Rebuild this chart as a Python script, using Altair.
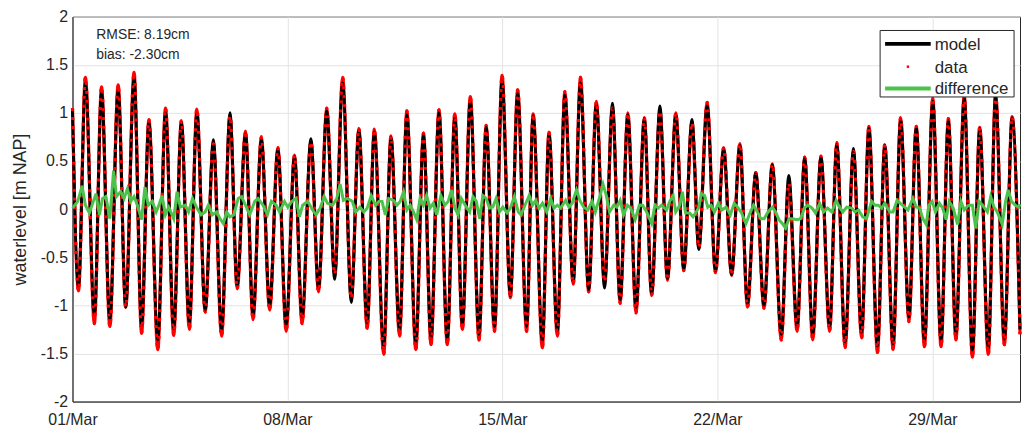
import altair as alt
import pandas as pd

# ---- tide extremes (hours after 01/Mar 00:00) ----
ext_hours = [0.0, 4.7, 10.1, 17.1, 22.7, 29.2, 35.7, 41.6, 48.1, 54.0, 59.7, 66.7, 72.7, 79.1, 85.1,
             91.3, 97.2, 103.7, 110.1, 116.5, 123.1, 128.7, 135.2, 141.1, 147.6, 154.1, 160.5, 167.0,
             173.5, 179.4, 186.3, 192.3, 198.7, 204.9, 211.1, 217.9, 223.8, 230.3, 235.9, 243.2, 248.9,
             255.6, 261.3, 268.3, 274.3, 280.2, 286.4, 292.9, 298.8, 304.7, 310.9, 317.7, 323.3, 329.8,
             335.7, 342.2, 347.9, 354.9, 360.0, 367.2, 372.4, 378.9, 384.8, 391.3, 397.0, 403.4, 409.4,
             415.8, 422.0, 428.0, 434.0, 440.4, 446.9, 452.6, 459.1, 465.0, 471.5, 477.7, 484.1, 489.5,
             496.0, 502.5, 508.9, 515.1, 521.6, 527.5, 534.0, 540.4, 546.9, 553.9, 559.8, 566.3, 572.2,
             578.5, 584.9, 591.7, 597.3, 603.8, 610.3, 616.7, 622.4, 629.1, 634.8, 641.3, 647.2, 653.7,
             659.4, 665.8, 672.3, 678.8, 684.5, 690.4, 696.9, 703.3, 709.0, 715.7, 721.4, 728.3, 734.3,
             740.5]

data_level = [1.05,
              -0.85, 1.37, -1.19, 1.27, -1.22, 1.29, -1.02, 1.42, -1.29, 0.93,
              -1.46, 1.05, -1.31, 0.92, -1.25, 1.04, -1.07, 0.68, -1.32, 0.97,
              -0.83, 0.81, -1.15, 0.75, -1.05, 0.64, -1.27, 0.56, -1.19, 0.70,
              -0.86, 1.05, -0.68, 1.37, -0.93, 0.84, -1.24, 0.83, -1.51, 0.76,
              -1.32, 1.02, -1.46, 0.79, -1.41, 1.03, -1.41, 0.99, -1.25, 1.17,
              -1.36, 0.87, -1.27, 1.39, -0.92, 1.24, -1.27, 0.99, -1.44, 0.80,
              -1.32, 1.22, -0.78, 1.37, -0.86, 1.12, -0.76, 1.05, -0.98, 1.00,
              -1.08, 0.95, -0.90, 1.02, -0.74, 1.00, -0.64, 0.90, -0.40, 1.11,
              -0.66, 0.64, -0.69, 0.68, -1.02, 0.38, -1.03, 0.47, -1.36, 0.27,
              -1.27, 0.54, -1.36, 0.55, -1.27, 0.69, -1.44, 0.60, -1.34, 0.86,
              -1.49, 0.67, -1.46, 0.95, -1.17, 0.86, -1.43, 1.15, -1.43, 0.94,
              -1.36, 1.18, -1.54, 0.85, -1.51, 1.20, -1.41, 0.96,
              -1.30]

model_level = [1.03,
               -0.80, 1.31, -1.10, 1.22, -1.15, 1.24, -1.02, 1.36, -1.20, 0.90,
               -1.36, 1.01, -1.24, 0.90, -1.18, 1.00, -1.05, 0.72, -1.25, 1.00,
               -0.80, 0.78, -1.10, 0.72, -1.00, 0.62, -1.20, 0.55, -1.12, 0.73,
               -0.82, 1.02, -0.73, 1.31, -0.97, 0.82, -1.18, 0.80, -1.42, 0.74,
               -1.25, 0.98, -1.38, 0.77, -1.34, 1.00, -1.35, 0.96, -1.20, 1.13,
               -1.30, 0.85, -1.22, 1.33, -0.90, 1.20, -1.22, 0.97, -1.37, 0.78,
               -1.26, 1.18, -0.76, 1.31, -0.84, 1.09, -0.82, 1.10, -0.94, 0.98,
               -1.02, 0.94, -0.88, 1.07, -0.72, 0.98, -0.62, 0.93, -0.42, 1.07,
               -0.64, 0.62, -0.68, 0.66, -0.98, 0.38, -1.00, 0.46, -1.30, 0.35,
               -1.22, 0.53, -1.30, 0.54, -1.22, 0.67, -1.38, 0.63, -1.28, 0.84,
               -1.42, 0.66, -1.40, 0.93, -1.12, 0.85, -1.37, 1.12, -1.37, 0.92,
               -1.30, 1.15, -1.47, 0.84, -1.44, 1.17, -1.35, 0.95,
               -1.25]

# ---- difference series ----
diff_hours = [0.0, 4.1, 7.5, 10.1, 13.2, 16.3, 18.4, 21.0, 23.5, 26.1, 29.2, 32.1, 34.4, 37.7, 40.3,
              42.9, 45.5, 48.1, 50.7, 54.0, 56.6, 59.2, 62.3, 65.4, 67.5, 70.0, 72.6, 75.2, 79.1,
              81.7, 84.3, 88.1, 90.7, 93.8, 97.2, 100.5, 103.7, 106.2, 109.3, 112.7, 115.3, 117.9,
              120.5, 123.0, 126.1, 129.5, 132.1, 135.2, 138.5, 142.4, 145.0, 148.9, 152.3, 155.4,
              159.2, 161.8, 165.7, 168.3, 171.4, 174.7, 177.3, 179.9, 183.8, 187.7, 190.3, 193.6,
              196.7, 199.3, 203.2, 206.5, 209.1, 211.7, 214.8, 218.7, 221.3, 224.6, 227.7, 230.3,
              233.4, 236.8, 239.4,
              241.9, 244.5, 247.1, 251.0, 253.5, 256.1, 258.7, 261.3, 263.9, 266.5, 269.0, 271.6,
              274.2, 276.8, 279.4, 282.0, 284.6, 287.9, 291.0, 293.6, 296.2, 298.8, 301.4, 303.9,
              307.0, 310.4, 313.0, 315.6, 318.2, 320.7, 323.3, 325.9, 328.5, 331.1, 333.7, 336.3,
              339.6, 342.2, 345.3, 348.4, 350.5, 353.6, 356.9, 359.5, 362.1, 364.7, 367.3, 370.6,
              373.7, 376.3, 378.9, 381.5, 385.4, 387.9, 390.5, 393.9, 396.5, 399.6, 402.7, 406.1,
              408.6, 411.7, 414.6, 417.2, 419.7, 422.9, 425.4, 428.0, 430.6, 433.7, 436.3, 439.7,
              443.0, 445.6, 448.7, 452.6, 455.2, 457.7, 460.3, 464.2, 466.8, 469.4, 471.4, 474.6,
              476.6, 479.2, 482.3, 484.9, 487.5, 489.5,
              491.4, 494.0, 496.5, 499.1, 501.7, 504.8, 507.4, 510.8, 514.1, 517.2, 520.3, 522.9,
              526.3, 528.9, 532.2, 535.3, 537.9, 540.5, 543.6, 547.0, 549.5, 552.1, 554.7, 557.3,
              559.9, 562.5, 566.3, 568.9, 572.0, 574.6, 578.0, 580.6, 583.9, 587.0, 590.1, 593.5,
              596.8, 599.4, 602.0, 605.1, 609.0, 611.6, 614.2, 617.5, 620.6, 624.5, 627.1, 629.7,
              632.3, 634.8, 638.7, 641.3, 644.4, 647.0, 650.4, 652.9, 656.8, 659.4, 662.0, 664.6,
              667.2, 669.2, 671.8, 674.4, 677.5, 680.1, 682.7, 685.2, 688.3, 691.7, 694.3, 696.9,
              700.2, 703.3, 705.9, 708.5, 711.1, 715.0, 717.6, 720.1, 722.7, 726.6, 729.2, 731.3,
              733.8, 736.9, 739.5, 740.5]

diff_level = [0.01, 0.08, 0.24, 0.04, -0.04, 0.08, 0.16, -0.06, 0.11, 0.13, -0.10, 0.40, 0.13, 0.18, 0.11,
              0.21, 0.08, 0.13, 0.04, -0.11, 0.23, 0.04, 0.08, -0.03, 0.04, 0.14, -0.06, 0.02, -0.10,
              0.18, 0.02, 0.04, -0.03, 0.11, 0.01, -0.06, -0.03, 0.04, -0.06, -0.03, -0.10, -0.15,
              -0.03, -0.08, -0.06, 0.11, 0.13, 0.04, -0.06, 0.08, 0.11, 0.04, -0.06, 0.08,
              0.04, -0.03, 0.08, 0.02, 0.08, 0.11, -0.08, 0.04, 0.08, -0.01, -0.06, 0.01,
              0.13, 0.06, 0.04, 0.11, 0.26, 0.09, 0.11, 0.08, -0.03, 0.02, -0.03, 0.01,
              0.14, 0.04, 0.08,
              0.08, -0.06, 0.11, 0.09, 0.04, 0.08, 0.18, -0.01, 0.04, -0.03, -0.11, 0.11,
              0.04, 0.14, 0.01, 0.06, -0.06, 0.14, 0.04, 0.08, 0.20, 0.01, -0.06, 0.11,
              0.04, -0.03, 0.13, 0.08, -0.10, 0.14, 0.11, 0.01, 0.02, 0.11, -0.03, 0.02,
              -0.04, 0.01, 0.13, -0.03, -0.06, 0.04, 0.14, 0.04, 0.09, 0.01, 0.06, -0.03,
              0.11, 0.01, 0.04, 0.01, 0.09, 0.02, 0.06, 0.20, 0.09, 0.02, -0.01, 0.08,
              -0.03, 0.11, 0.26, 0.14, -0.03, 0.04, 0.02, 0.09, -0.06, 0.04, 0.01, -0.11,
              0.04, 0.04, -0.03, -0.15, 0.04, 0.01, 0.04, -0.01, 0.08, 0.14, -0.03, 0.04,
              0.18, -0.04, -0.04, -0.08, -0.03, 0.02,
              0.16, 0.14, 0.02, 0.04, -0.03, 0.06, -0.01, 0.02, -0.06, 0.06, 0.01, -0.04,
              -0.15, -0.06, 0.04, -0.03, -0.10, -0.10, -0.03, 0.02, -0.03, -0.11, -0.15, -0.20,
              -0.10, -0.10, -0.11, -0.10, 0.01, 0.04, 0.01, -0.04, 0.06, -0.03, 0.01, -0.03,
              0.09, 0.02, -0.03, 0.02, 0.01, -0.03, -0.01, -0.08, -0.10, 0.08, 0.04, 0.04,
              0.01, 0.06, -0.03, -0.03, 0.09, 0.06, 0.02, -0.01, 0.11, 0.02, 0.01, -0.10,
              -0.16, 0.04, 0.08, -0.03, 0.06, 0.01, -0.11, 0.08, 0.01, -0.16, 0.08, -0.01,
              0.04, 0.04, -0.20, 0.08, 0.04, -0.03, 0.13, 0.02, -0.03, -0.16, 0.08, 0.20,
              0.08, 0.04, 0.02, 0.05]

y_ticks = [-2, -1.5, -1, -0.5, 0, 0.5, 1, 1.5, 2]
x_tick_days = [1, 8, 15, 22, 29]

base = pd.Timestamp("2023-03-01 00:00:00")
tides = pd.DataFrame({
    "time": base + pd.to_timedelta(ext_hours, unit="h"),
    "data": data_level,
    "model": model_level,
})
diff = pd.DataFrame({
    "time": base + pd.to_timedelta(diff_hours, unit="h"),
    "difference": diff_level,
})
dummy = pd.DataFrame({"a": [0]})

FONT = "Liberation Sans"
DARK = "#262626"
GREEN = "#4cc24c"
RED = "#ff0000"

x_scale = alt.Scale(domain=[alt.DateTime(year=2023, month=3, date=1, hours=0),
                            alt.DateTime(year=2023, month=3, date=31, hours=20, minutes=30)])
y_scale = alt.Scale(domain=[-2, 2], nice=False, zero=False)

x_axis = alt.Axis(values=[alt.DateTime(year=2023, month=3, date=d) for d in x_tick_days],
                  format="%d/%b", title=None, ticks=False, labelFlush=False,
                  labelFontSize=16, labelPadding=10, grid=True)
y_axis = alt.Axis(values=y_ticks, labelExpr="'' + datum.value", title="waterlevel [m NAP]",
                  titleFontSize=18, titleFontWeight="normal", titleX=-52, titleY=194,
                  titleBaseline="middle", titleAlign="center", ticks=False, labelPadding=5,
                  labelFontSize=16, grid=True)

# solid red underlay: shows wherever the measured data reaches beyond the model
data_under = alt.Chart(tides).mark_line(color=RED, strokeWidth=3.2, interpolate="monotone").encode(
    x=alt.X("time:T", scale=x_scale, axis=x_axis),
    y=alt.Y("data:Q", scale=y_scale, axis=y_axis),
)
model = alt.Chart(tides).mark_line(color="black", strokeWidth=3, interpolate="monotone").encode(
    x=alt.X("time:T", scale=x_scale),
    y=alt.Y("model:Q", scale=y_scale),
)
data = alt.Chart(tides).mark_line(color=RED, strokeWidth=3.2, interpolate="monotone",
                                  strokeDash=[3, 6]).encode(
    x=alt.X("time:T", scale=x_scale),
    y=alt.Y("data:Q", scale=y_scale),
)
difference = alt.Chart(diff).mark_line(color=GREEN, strokeWidth=3).encode(
    x=alt.X("time:T", scale=x_scale),
    y=alt.Y("difference:Q", scale=y_scale),
)

txt = dict(font=FONT, color=DARK, align="left")
rmse = alt.Chart(dummy).mark_text(fontSize=14, baseline="alphabetic", **txt).encode(
    x=alt.value(24), y=alt.value(23), text=alt.value("RMSE: 8.19cm"))
bias = alt.Chart(dummy).mark_text(fontSize=14, baseline="alphabetic", **txt).encode(
    x=alt.value(24), y=alt.value(43), text=alt.value("bias: -2.30cm"))

leg_box = alt.Chart(dummy).mark_rect(fill="white", stroke=DARK, strokeWidth=1).encode(
    x=alt.value(814), x2=alt.value(949), y=alt.value(14), y2=alt.value(81))
leg_model = alt.Chart(dummy).mark_rule(color="black", strokeWidth=4).encode(
    x=alt.value(819), x2=alt.value(865), y=alt.value(27.5))
leg_data = alt.Chart(dummy).mark_point(shape="square", filled=True, color=RED, size=6, opacity=1).encode(
    x=alt.value(842), y=alt.value(50.5))
leg_diff = alt.Chart(dummy).mark_rule(color=GREEN, strokeWidth=4).encode(
    x=alt.value(819), x2=alt.value(865), y=alt.value(72.5))
leg_t1 = alt.Chart(dummy).mark_text(fontSize=17, baseline="middle", **txt).encode(
    x=alt.value(869), y=alt.value(29), text=alt.value("model"))
leg_t2 = alt.Chart(dummy).mark_text(fontSize=17, baseline="middle", **txt).encode(
    x=alt.value(869), y=alt.value(51.5), text=alt.value("data"))
leg_t3 = alt.Chart(dummy).mark_text(fontSize=17, baseline="middle", **txt).encode(
    x=alt.value(869), y=alt.value(73), text=alt.value("difference"))

chart = alt.layer(
    data_under, model, data, difference, rmse, bias,
    leg_box, leg_model, leg_data, leg_diff, leg_t1, leg_t2, leg_t3,
).properties(
    width=955, height=388,
    autosize=alt.AutoSizeParams(type="none"),
    padding={"left": 65, "top": 7, "right": 2, "bottom": 25},
    background="white",
).configure_view(
    stroke=DARK, strokeWidth=1,
).configure_axis(
    gridColor="#e3e3e3", domainColor=DARK, labelColor=DARK, titleColor=DARK,
    labelFont=FONT, titleFont=FONT,
)

chart.save("out.html", embed_options={"renderer": "svg", "actions": False})
